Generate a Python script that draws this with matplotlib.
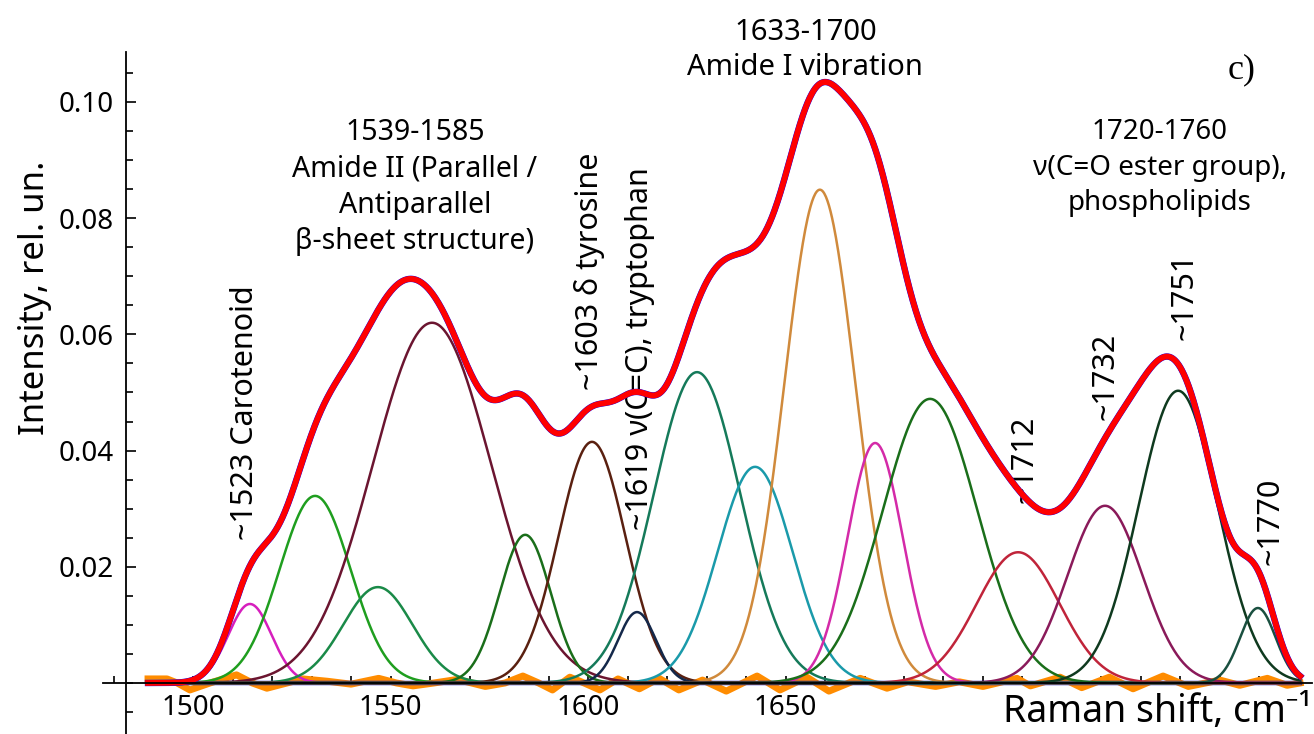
import numpy as np
import matplotlib.pyplot as plt
from matplotlib.ticker import MultipleLocator, FixedLocator

plt.rcParams['font.family'] = ['Noto Sans', 'DejaVu Sans']

# Gaussian band fit of the 1490-1780 cm-1 region
centers = [1514.4, 1530.9, 1546.8, 1560.5, 1584.1, 1601.0, 1612.4, 1627.6,
           1642.3, 1658.7, 1672.7, 1686.6, 1708.9, 1730.9, 1749.4, 1769.6]
heights = [0.0136, 0.0322, 0.0165, 0.0620, 0.0255, 0.0415, 0.0122, 0.0535,
           0.0372, 0.0849, 0.0413, 0.0489, 0.0225, 0.0305, 0.0503, 0.0129]
sigmas = [5.5, 9.0, 8.8, 15.0, 6.5, 8.5, 4.8, 11.0,
          9.5, 9.0, 7.0, 12.0, 10.5, 9.5, 10.0, 4.5]
band_colors = ['#d61fbd', '#1f9e1f', '#1a8a48', '#6b1530', '#1a6e1a', '#5a2010',
               '#14284a', '#157a5a', '#1a9aaa', '#d08a3c', '#d42aa8', '#1a6e1a',
               '#c0243a', '#8a1a5a', '#0f3a1f', '#1a5040']

# residual (measured - fit)
resid_x = [1488.6, 1493.4, 1496.0, 1499.2, 1504.3, 1511.0, 1515.0, 1518.7, 1523.8,
           1527.8, 1534.0, 1540.0, 1547.0, 1551.5, 1555.7, 1561.0, 1566.8, 1570.5,
           1574.0, 1579.0, 1583.5, 1587.5, 1591.0, 1595.4, 1599.0, 1603.0, 1607.6,
           1613.0, 1618.0, 1623.0, 1629.0, 1635.0, 1642.8, 1648.6, 1655.4, 1661.0,
           1668.9, 1675.7, 1681.0, 1688.0, 1694.0, 1700.0, 1708.6, 1712.0, 1719.5,
           1725.0, 1732.0, 1738.0, 1745.6, 1752.0, 1760.0, 1765.0, 1772.0, 1777.0,
           1780.3]
resid_y = [0.0007, 0.0007, 0.0000, -0.0012, 0.0000, 0.0014, 0.0000, -0.0009, 0.0000,
           0.0007, 0.0003, -0.0002, 0.0008, 0.0000, -0.0005, 0.0000, 0.0006, 0.0000,
           -0.0006, 0.0000, 0.0012, 0.0000, -0.0012, 0.0010, 0.0000, -0.0012, 0.0007,
           -0.0010, 0.0008, -0.0012, 0.0005, -0.0014, 0.0012, -0.0012, 0.0010, -0.0014,
           0.0008, -0.0009, 0.0002, -0.0006, 0.0002, -0.0006, 0.0008, -0.0005, 0.0010,
           -0.0008, 0.0010, -0.0010, 0.0012, -0.0006, 0.0005, -0.0004, 0.0008, -0.0004,
           0.0000]

tick_major = [1500, 1550, 1600, 1650]

x = np.linspace(1488.6, 1780.3, 1500)
bands = [h * np.exp(-(x - c) ** 2 / (2 * s ** 2)) for c, h, s in zip(centers, heights, sigmas)]
fit = np.sum(bands, axis=0)

fig = plt.figure(figsize=(13.14, 7.34), dpi=100)
ax = fig.add_axes([103 / 1314, 0.0, 1209 / 1314, 682 / 734])
ax.set_xlim(1477.2, 1783.3)
ax.set_ylim(-0.00878, 0.1086)

ax.plot(resid_x, resid_y, color='#ff8c00', lw=5, solid_joinstyle='round', zorder=2)
ax.plot([x[0], x[-1]], [0, 0], color='#1010c0', lw=3.2, zorder=3)
for b, col in zip(bands, band_colors):
    ax.plot(x, b, color=col, lw=1.8, zorder=4)
ax.plot(x, fit, color='#0000ff', lw=4.6, zorder=5)
ax.plot(x, fit, color='#ff0000', lw=4.2, zorder=6)

# axes crossing at (1483, 0)
for side in ['top', 'right']:
    ax.spines[side].set_visible(False)
ax.spines['left'].set_position(('data', 1483.0))
ax.spines['bottom'].set_position(('data', 0.0))
ax.spines['left'].set_linewidth(1.3)
ax.spines['bottom'].set_linewidth(1.3)
ax.spines['bottom'].set_zorder(7)

ax.xaxis.set_major_locator(FixedLocator(tick_major))
ax.xaxis.set_minor_locator(MultipleLocator(10))
ax.yaxis.set_major_locator(FixedLocator([0.02, 0.04, 0.06, 0.08, 0.10]))
ax.yaxis.set_minor_locator(MultipleLocator(0.005))
ax.yaxis.set_major_formatter(plt.FuncFormatter(lambda v, p: f'{v:.2f}'))
ax.tick_params(axis='x', which='both', direction='in', length=5, width=1.2,
               labelsize=20, pad=8)
ax.tick_params(axis='y', which='major', direction='in', length=7, width=1.2,
               labelsize=20, pad=9)
ax.tick_params(axis='y', which='minor', direction='in', length=5, width=1.2)

fig.text(35 / 1314, 1 - 298 / 734, 'Intensity, rel. un.', rotation=90, fontsize=25,
         ha='center', va='center')
ax.text(1783.3, -0.0050, 'Raman shift, cm⁻¹', fontsize=27, ha='right', va='center')

# band assignments
ax.text(1556.2, 0.0972, '1539-1585\nAmide II (Parallel /\nAntiparallel\nβ-sheet structure)',
        fontsize=20.5, ha='center', va='top', linespacing=1.33)
ax.text(1655.0, 0.1145, '1633-1700\nAmide I vibration', fontsize=21,
        ha='center', va='top', linespacing=1.3)
ax.text(1744.8, 0.0972, '1720-1760\nν(C=O ester group),\nphospholipids', fontsize=20,
        ha='center', va='top', linespacing=1.35)
ax.text(1765.5, 0.1055, 'c)', fontsize=26, family='Liberation Serif', ha='center', va='center')

vlabels = [(1513.2, 0.0246, '~1523 Carotenoid'),
           (1600.5, 0.0504, '~1603 δ tyrosine'),
           (1613.2, 0.0263, '~1619 ν(C=C), tryptophan'),
           (1710.6, 0.0310, '~1712'),
           (1730.9, 0.0453, '~1732'),
           (1751.1, 0.0590, '~1751'),
           (1772.7, 0.0203, '~1770')]
for vx, vy, txt in vlabels:
    ax.text(vx, vy, txt, rotation=90, fontsize=22, ha='center', va='bottom')

fig.savefig('out.png', dpi=100)
